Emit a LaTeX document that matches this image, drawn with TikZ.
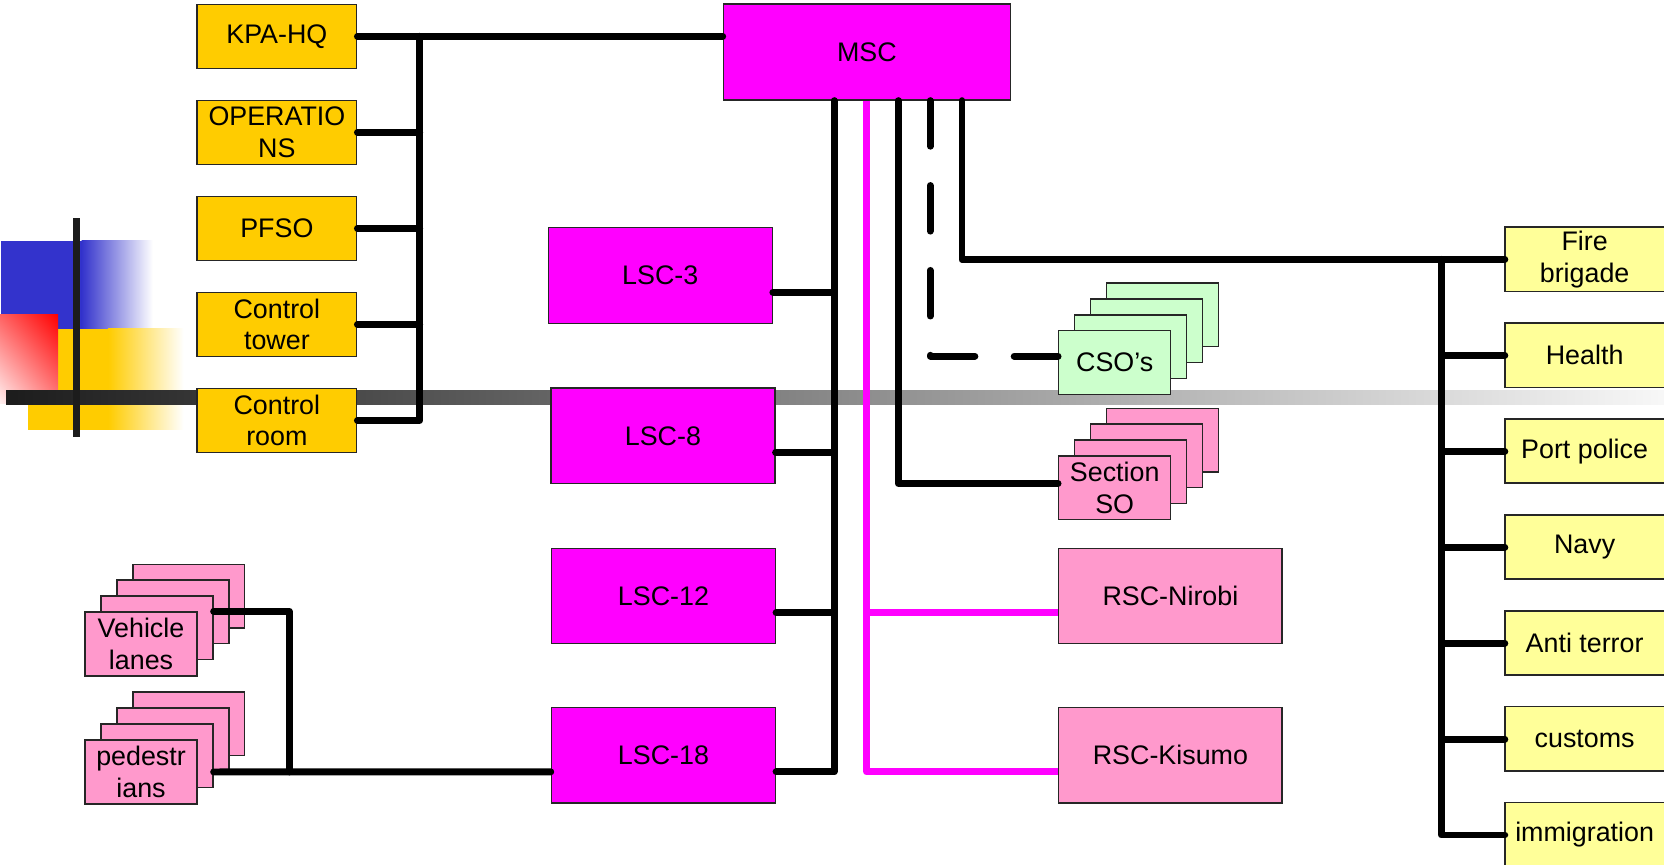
\documentclass[tikz,border=0pt]{standalone}
\usepackage{fontspec}
\setmainfont{Liberation Sans}
\usetikzlibrary{shadings}
\definecolor{gold}{HTML}{FFCC00}
\definecolor{mag}{HTML}{FF00FF}
\definecolor{pnk}{HTML}{FF99CC}
\definecolor{lgrn}{HTML}{CCFFCC}
\definecolor{lylw}{HTML}{FFFF99}
\definecolor{dblue}{HTML}{3333CC}
\definecolor{barblack}{HTML}{1C1C1C}
\begin{document}
\begin{tikzpicture}[x=1pt,y=-1pt,
  box/.style={draw=black!85, line width=1.3pt, inner sep=0pt, anchor=north west, align=center, font=\fontsize{25.3}{30}\selectfont},
  gbox/.style={box, fill=gold, minimum width=150.5pt, minimum height=60.5pt},
  lbox/.style={box, fill=mag, minimum width=211pt, minimum height=90pt},
  rbox/.style={box, fill=pnk, minimum width=210.5pt, minimum height=90pt},
  sbox/.style={box, minimum width=105.5pt, minimum height=60pt},
  rlab/.style={inner sep=0pt, anchor=north west, align=center, minimum width=150pt, minimum height=60.5pt, font=\fontsize{25.3}{30}\selectfont},
  rrect/.style={draw=black!85, line width=1.3pt, fill=lylw},
  conn/.style={line width=6.5pt, line cap=round, line join=round},
]
\useasboundingbox (0,0) rectangle (1568,815);

% decoration
\fill[dblue] (0.9,227) rectangle (77,310);
\shade[left color=dblue, right color=white] (77,227) rectangle (144,310);
\fill[gold] (26.4,310) rectangle (102,405);
\shade[left color=gold, right color=white] (102,310) rectangle (173,405);
\shade[upper right=red, lower left=red!6, upper left=red!62, lower right=red!50] (0,296) rectangle (54.7,380);
\shade[left color=barblack, middle color=black!40, right color=black!3] (5.7,368) rectangle (1568,381);
\fill[barblack] (68.8,205.4) rectangle (75.4,412);

% left column
\node[gbox] (kpa) at (185,3.3) {KPA-HQ};
\node[gbox] (ops) at (185,93.8) {OPERATIO\\NS};
\node[gbox] (pfso) at (185,184.3) {PFSO};
\node[gbox] (ctower) at (185,274.8) {Control\\tower};
\node[gbox] (croom) at (185,365.3) {Control\\room};

% MSC and LSCs
\node[box, fill=mag, minimum width=270.5pt, minimum height=90.5pt] (msc) at (681,3) {MSC};
\node[lbox] (lsc3) at (516,214) {LSC-3};
\node[lbox] (lsc8) at (518.5,365) {LSC-8};
\node[lbox] (lsc12) at (519,516) {LSC-12};
\node[lbox] (lsc18) at (519,666) {LSC-18};

% RSCs
\node[rbox] (rscn) at (997,516) {RSC-Nirobi};
\node[rbox] (rsck) at (997,666) {RSC-Kisumo};

% stacks
\foreach \i in {3,2,1} {
  \node[sbox, fill=lgrn] (cso\i) at ({997+15*\i},{311-15*\i}) {};
  \node[sbox, fill=pnk] (sso\i) at ({997+15*\i},{429-15*\i}) {};
  \node[sbox, fill=pnk] (veh\i) at ({79.5+15*\i},{576-15*\i}) {};
  \node[sbox, fill=pnk] (ped\i) at ({79.5+15*\i},{696.5-15*\i}) {};
}
\node[sbox, fill=lgrn] (cso) at (997,311) {CSO’s};
\node[sbox, fill=pnk] (sso) at (997,429) {Section\\SO};
\node[sbox, fill=pnk, minimum height=60.5pt] (veh) at (79.5,576) {Vehicle\\lanes};
\node[sbox, fill=pnk, minimum height=60.5pt] (ped) at (79.5,696.5) {pedestr\\ians};

% right column
\foreach \y in {214,304.4,394.8,485.2,575.6,666,756.4} {
  \draw[rrect] (1418,\y) rectangle (1590,{\y+60.5});
}
\node[rlab] (fire) at (1418,214) {Fire\\brigade};
\node[rlab] (health) at (1418,304.4) {Health};
\node[rlab] (port) at (1418,394.8) {Port police};
\node[rlab] (navy) at (1418,485.2) {Navy};
\node[rlab] (anti) at (1418,575.6) {Anti terror};
\node[rlab] (cust) at (1418,666) {customs};
\node[rlab] (immig) at (1418,756.4) {immigration};

% bus coordinates
\coordinate (lbus) at (395.5,0);
\coordinate (m1) at (786,0);
\coordinate (m2) at (816.5,0);
\coordinate (m3) at (846.5,0);
\coordinate (m4) at (876.5,0);
\coordinate (m5) at (906.5,0);
\coordinate (rbus) at (1358.5,0);
\coordinate (vbus) at (272.5,0);

% left connectors
\draw[conn] (kpa.east) -- (kpa.east -| msc.west);
\draw[conn] (kpa.east -| lbus) -- (croom.east -| lbus) -- (croom.east);
\draw[conn] (ops.east) -- (ops.east -| lbus);
\draw[conn] (pfso.east) -- (pfso.east -| lbus);
\draw[conn] (ctower.east) -- (ctower.east -| lbus);

% LSC bus
\draw[conn] (msc.south -| m1) -- ([yshift=30pt]lsc18.south east -| m1) -- ([yshift=30pt]lsc18.south east);
\draw[conn] ([yshift=30pt]lsc3.south east) -- ([yshift=30pt]lsc3.south east -| m1);
\draw[conn] ([yshift=30pt]lsc8.south east) -- ([yshift=30pt]lsc8.south east -| m1);
\draw[conn] ([yshift=30pt]lsc12.south east) -- ([yshift=30pt]lsc12.south east -| m1);

% magenta RSC line
\draw[conn, mag, line cap=butt] (msc.south -| m2) -- ([yshift=30pt]rsck.south west -| m2) -- ([yshift=30pt]rsck.south west);
\draw[conn, mag, line cap=butt] ([yshift=30pt]rscn.south west -| m2) -- ([yshift=30pt]rscn.south west);

% Section SO
\draw[conn] (msc.south -| m3) |- ([yshift=4pt]sso.west);
% CSO dashed
\draw[conn, dash pattern=on 43pt off 37pt] (msc.south -| m4) |- ([yshift=6pt]cso.west);
% Fire brigade and right bus
\draw[conn] (msc.south -| m5) |- (fire.west);
\draw[conn] (fire.west -| rbus) -- (immig.west -| rbus) -- (immig.west);
\draw[conn] (health.west -| rbus) -- (health.west);
\draw[conn] (port.west -| rbus) -- (port.west);
\draw[conn] (navy.west -| rbus) -- (navy.west);
\draw[conn] (anti.west -| rbus) -- (anti.west);
\draw[conn] (cust.west -| rbus) -- (cust.west);

% vehicle lanes / pedestrians
\draw[conn] (veh.north -| veh1.east) -- (veh.north -| vbus) -- (ped.center -| vbus);
\draw[conn] (ped.center -| ped1.east) -- ([yshift=30pt]lsc18.south west);
\end{tikzpicture}
\end{document}
